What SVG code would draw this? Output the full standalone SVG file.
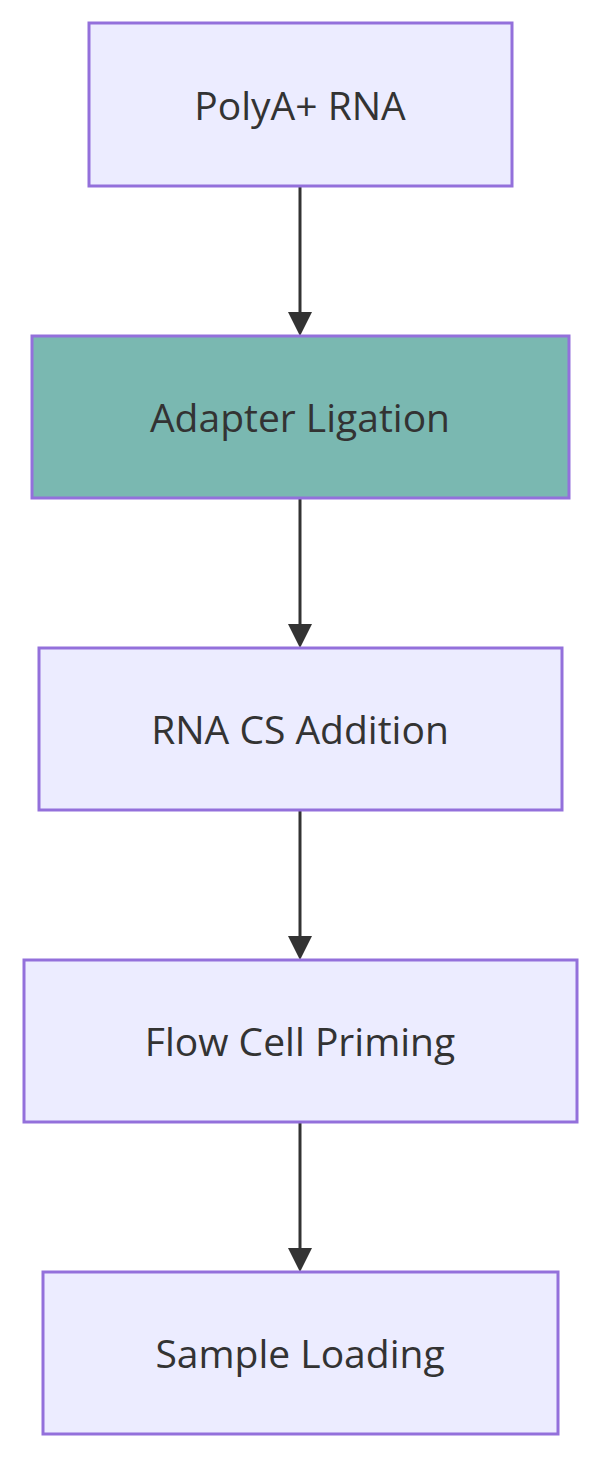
<svg xmlns="http://www.w3.org/2000/svg" width="601" height="1458" viewBox="0 0 601 1458">
<style>
.n rect{fill:#ececff;stroke:#9370db;stroke-width:3}
.n text{font-family:"Open Sans","DejaVu Sans",sans-serif;font-size:39px;fill:#333;text-anchor:middle;dominant-baseline:central}
.e line{stroke:#333;stroke-width:3}
</style>
<defs><marker id="a" markerWidth="8" markerHeight="8" refX="7.5" refY="4" orient="auto" markerUnits="userSpaceOnUse" viewBox="0 0 8 8"><path d="M0,0L8,4L0,8z" fill="#333"/></marker></defs>
<rect width="601" height="1458" fill="#fff"/>
<g class="e">
<line x1="300" y1="186" x2="300" y2="312"/><path d="M288,312L312,312L300,336z" fill="#333"/>
<line x1="300" y1="498" x2="300" y2="624"/><path d="M288,624L312,624L300,648z" fill="#333"/>
<line x1="300" y1="810" x2="300" y2="936"/><path d="M288,936L312,936L300,960z" fill="#333"/>
<line x1="300" y1="1122" x2="300" y2="1248"/><path d="M288,1248L312,1248L300,1272z" fill="#333"/>
</g>
<g id="n1" class="n"><rect x="89" y="23" width="423" height="163"/><text x="300" y="104">PolyA+ RNA</text></g>
<g id="n2" class="n"><rect x="32" y="336" width="537" height="162" style="fill:#7ab8b1"/><text x="300" y="416">Adapter Ligation</text></g>
<g id="n3" class="n"><rect x="39" y="648" width="523" height="162"/><text x="300" y="728">RNA CS Addition</text></g>
<g id="n4" class="n"><rect x="24" y="960" width="553" height="162"/><text x="300" y="1040">Flow Cell Priming</text></g>
<g id="n5" class="n"><rect x="43" y="1272" width="515" height="162"/><text x="300" y="1352">Sample Loading</text></g>
</svg>
